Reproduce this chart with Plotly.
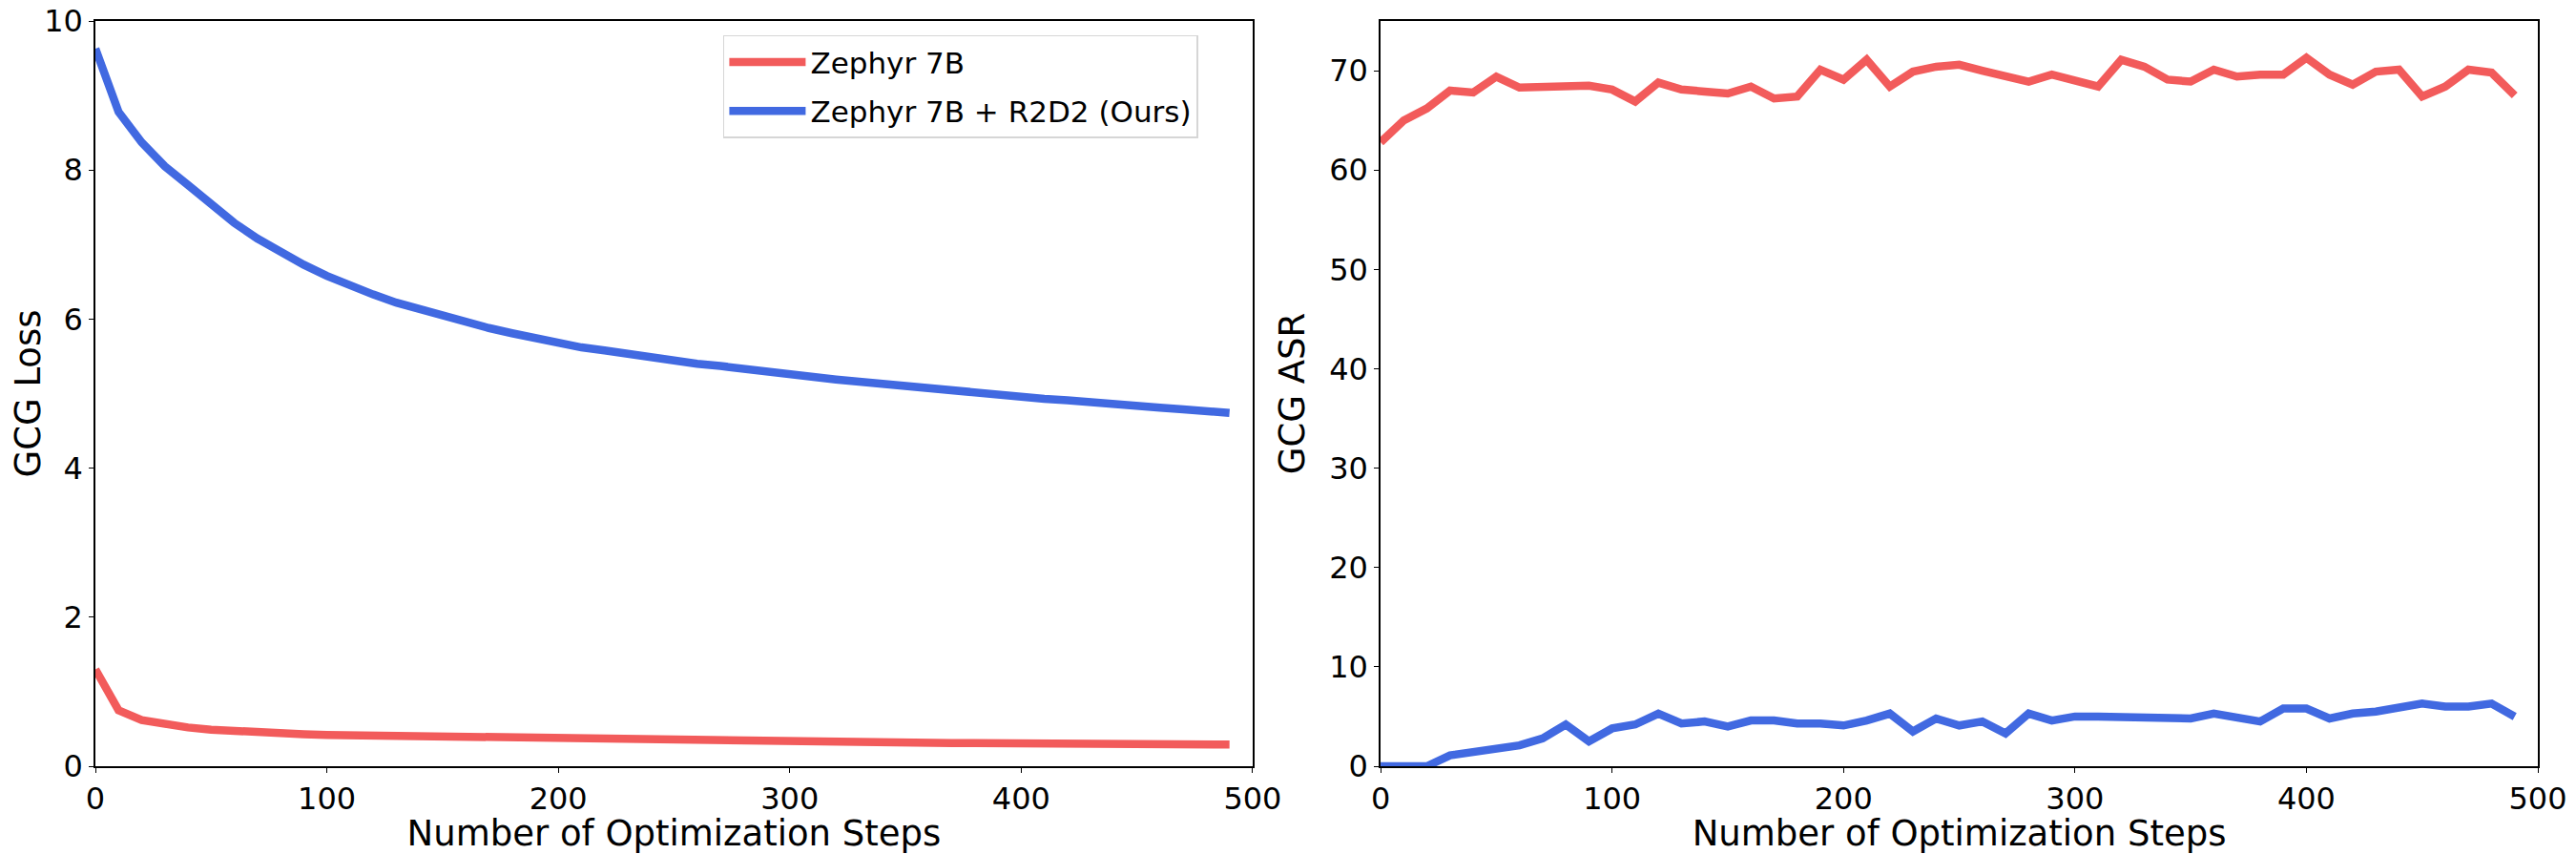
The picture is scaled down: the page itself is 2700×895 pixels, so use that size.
#!/usr/bin/env python3

import plotly.graph_objects as go
from plotly.subplots import make_subplots

# Optimization steps (shared by both panels).
steps = list(range(0, 500, 10))

# GCG loss per step.
loss_zephyr = [1.30, 0.75, 0.62, 0.56, 0.52, 0.49, 0.47, 0.45, 0.44, 0.43,
               0.42, 0.415, 0.41, 0.405, 0.40, 0.395, 0.39, 0.385, 0.38, 0.375,
               0.37, 0.365, 0.36, 0.355, 0.35, 0.35, 0.345, 0.34, 0.34, 0.335,
               0.33, 0.33, 0.325, 0.32, 0.32, 0.315, 0.315, 0.31, 0.31, 0.31,
               0.305, 0.305, 0.30, 0.30, 0.30, 0.295, 0.295, 0.29, 0.29, 0.29]
loss_r2d2 = [9.63, 8.78, 8.37, 8.05, 7.80, 7.54, 7.29, 7.08, 6.90, 6.73,
             6.58, 6.45, 6.33, 6.22, 6.13, 6.04, 5.96, 5.88, 5.81, 5.74,
             5.69, 5.62, 5.58, 5.53, 5.48, 5.43, 5.40, 5.37, 5.33, 5.30,
             5.27, 5.23, 5.19, 5.16, 5.13, 5.10, 5.06, 5.04, 5.01, 4.99,
             4.96, 4.93, 4.91, 4.88, 4.85, 4.83, 4.81, 4.79, 4.77, 4.74]

# GCG attack success rate per step.
asr_zephyr = [62.8, 65.0, 66.2, 68.0, 67.8, 69.4, 68.3, 68.3, 68.5, 68.5,
              68.1, 66.9, 68.8, 68.1, 67.9, 67.7, 68.4, 67.2, 67.4, 70.1,
              69.1, 71.1, 68.4, 69.9, 70.4, 70.6, 70.0, 69.4, 68.9, 69.6,
              69.0, 68.4, 71.1, 70.4, 69.1, 68.9, 70.1, 69.4, 69.6, 69.6,
              71.3, 69.6, 68.6, 69.9, 70.1, 67.4, 68.4, 70.1, 69.8, 67.5]
asr_r2d2 = [0.0, 0.0, 0.0, 1.1, 1.4, 1.9, 2.1, 2.8, 4.2, 2.5,
            3.8, 4.2, 5.3, 4.3, 4.5, 4.0, 4.6, 4.6, 4.3, 4.3,
            4.1, 4.6, 5.3, 3.5, 4.8, 4.1, 4.5, 3.3, 5.3, 4.6,
            5.0, 5.0, 5.0, 5.0, 5.0, 4.8, 5.3, 5.0, 4.5, 5.8,
            5.8, 4.8, 5.3, 5.5, 6.0, 6.3, 6.0, 6.0, 6.3, 5.0]

RED = "#f25b5b"
BLUE = "#4169e1"
FONT = "DejaVu Sans"
LW = 8.5

fig = make_subplots(rows=1, cols=2, horizontal_spacing=0.0524)

# Left panel: loss.
fig.add_trace(go.Scatter(x=steps, y=loss_zephyr, mode="lines", name="Zephyr 7B",
                         legendgroup="a", line=dict(color=RED, width=LW)), row=1, col=1)
fig.add_trace(go.Scatter(x=steps, y=loss_r2d2, mode="lines", name="Zephyr 7B + R2D2 (Ours)",
                         legendgroup="b", line=dict(color=BLUE, width=LW)), row=1, col=1)

# Right panel: ASR.
fig.add_trace(go.Scatter(x=steps, y=asr_zephyr, mode="lines", showlegend=False,
                         line=dict(color=RED, width=LW)), row=1, col=2)
fig.add_trace(go.Scatter(x=steps, y=asr_r2d2, mode="lines", showlegend=False,
                         line=dict(color=BLUE, width=LW)), row=1, col=2)

axis_style = dict(showline=True, linecolor="black", linewidth=1.5, mirror=True,
                  showgrid=False, zeroline=False, ticks="outside", ticklen=5,
                  tickcolor="black", tickfont=dict(size=32, color="black", family=FONT),
                  title_font=dict(size=37, color="black", family=FONT),
                  ticklabeloverflow="allow", automargin=False)

fig.update_xaxes(axis_style, range=[0, 500], dtick=100,
                 title_text="Number of Optimization Steps", title_standoff=3)
fig.update_yaxes(axis_style, title_standoff=14)
fig.update_yaxes(range=[0, 10], dtick=2, title_text="GCG Loss", row=1, col=1)
fig.update_yaxes(range=[0, 75], dtick=10, title_text="GCG ASR", row=1, col=2)

# The page body adds a small offset, so the figure is a bit smaller than the window.
fig.update_layout(
    width=2692, height=887,
    margin=dict(l=92, r=40, t=14, b=92),
    paper_bgcolor="white", plot_bgcolor="white",
    font=dict(family=FONT, color="black"),
    legend=dict(x=0.257, y=0.981, xanchor="left", yanchor="top",
                bgcolor="rgba(255,255,255,0.8)", bordercolor="#d6d6d6", borderwidth=1.5,
                font=dict(size=31, family=FONT, color="black"), itemwidth=80,
                tracegroupgap=8),
)

fig.write_html("out.html")
